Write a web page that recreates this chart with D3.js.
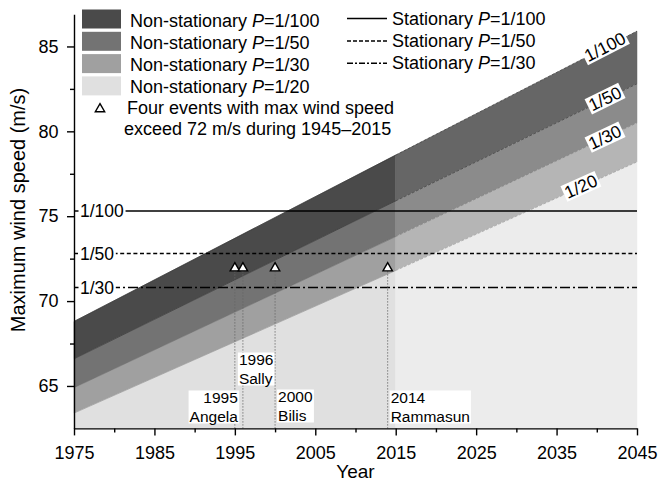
<!DOCTYPE html>
<html>
<head>
<meta charset="utf-8">
<style>
    body { margin: 0; background: #fff; }
    text { font-family: "Liberation Sans", Arial, sans-serif; fill: #000; }
</style>
</head>
<body>
<svg width="658" height="491"></svg>
<script src="https://d3js.org/d3.v7.min.js"></script>
<script>
    // ---- data ----
    let bandYears = [1975, 2015, 2045];
    let bandNames = ["1/100", "1/50", "1/30", "1/20"];
    let nonStat100 = [68.8, 78.6, 85.9];
    let nonStat50 = [66.6, 75.9, 82.8];
    let nonStat30 = [64.9, 73.8, 80.5];
    let nonStat20 = [63.4, 71.8, 78.2];
    let bandLabelYears = [2041, 2041, 2041, 2038];

    let statNames = ["1/100", "1/50", "1/30"];
    let statValues = [75.3, 72.8, 70.8];

    let eventYears = [1995, 1996, 2000, 2014];
    let eventNames = ["Angela", "Sally", "Bilis", "Rammasun"];
    let eventSpeed = [72, 72, 72, 72];

    let xTicks = [1975, 1985, 1995, 2005, 2015, 2025, 2035, 2045];
    let xMinor = [1980, 1990, 2000, 2010, 2020, 2030, 2040];
    let yTicks = [65, 70, 75, 80, 85];
    let yMinor = [67.5, 72.5, 77.5, 82.5];

    let pastColors = ["#4a4a4a", "#737373", "#a0a0a0", "#e0e0e0"];
    let futureColors = ["#666666", "#8b8b8b", "#b5b5b5", "#ececec"];

    let bands = [nonStat100, nonStat50, nonStat30, nonStat20];

    let svg = d3.select("svg");
    let x = d3.scaleLinear().domain([1975, 2045]).range([74, 637]);
    let y = d3.scaleLinear().domain([62.5, 86.9]).range([428.4, 14.2]);
    let yMin = y.domain()[0];

    let plot = svg.append("g");

    // bands, drawn as two segments: 1975-2015 and 2015-2045
    [[0, 1], [1, 2]].forEach(function (seg, s) {
        bands.forEach(function (vals, i) {
            let below = bands[i + 1];
            let pts = seg.map(function (k) {
                return {yr: bandYears[k], top: vals[k], bot: below ? below[k] : yMin};
            });
            let area = d3.area()
                .x(function (d) {return x(d.yr);})
                .y0(function (d) {return y(d.bot);})
                .y1(function (d) {return y(d.top);});
            plot.append("path")
                .attr("d", area(pts))
                .attr("fill", s === 0 ? pastColors[i] : futureColors[i])
                .attr("stroke", s === 0 ? pastColors[i] : futureColors[i])
                .attr("stroke-width", 0.5);
        });
    });

    // band edges
    bands.forEach(function (vals, i) {
        [[0, 1], [1, 2]].forEach(function (seg, s) {
            plot.append("line")
                .attr("x1", x(bandYears[seg[0]])).attr("y1", y(vals[seg[0]]))
                .attr("x2", x(bandYears[seg[1]])).attr("y2", y(vals[seg[1]]))
                .attr("stroke", "#2a2a2a")
                .attr("stroke-opacity", i < 2 ? 0.7 : 0.35)
                .attr("stroke-width", 0.8)
                .attr("stroke-dasharray", s === 0 ? null : "3,1.5");
        });
    });

    // stationary lines
    let dashes = [null, "4,2.6", "10,3,2,3"];
    statValues.forEach(function (v, i) {
        plot.append("line")
            .attr("x1", x(1975)).attr("x2", x(2045))
            .attr("y1", y(v)).attr("y2", y(v))
            .attr("stroke", "#000")
            .attr("stroke-width", 1.5)
            .attr("stroke-dasharray", dashes[i]);
    });

    // event markers
    eventYears.forEach(function (yr, i) {
        plot.append("line")
            .attr("x1", x(yr)).attr("x2", x(yr))
            .attr("y1", y(eventSpeed[i]) + 4).attr("y2", y(yMin))
            .attr("stroke", "#666")
            .attr("stroke-width", 0.8)
            .attr("stroke-dasharray", "1.5,1.5");
    });

    function labelBox(g, txt, pad) {
        let b = txt.node().getBBox();
        g.insert("rect", "text")
            .attr("x", b.x - pad).attr("y", b.y + 1.5)
            .attr("width", b.width + 2 * pad).attr("height", b.height - 3)
            .attr("fill", "#fff");
    }

    // event labels
    let evLabel = [
        {dx: 3, anchor: "end", y1: 403, y2: 422},
        {dx: -4, anchor: "start", y1: 365, y2: 384},
        {dx: 3, anchor: "start", y1: 402, y2: 421},
        {dx: 3, anchor: "start", y1: 403, y2: 422}
    ];
    eventYears.forEach(function (yr, i) {
        let o = evLabel[i];
        let g = plot.append("g");
        let t = g.append("text")
            .attr("text-anchor", o.anchor)
            .style("font-size", "15.5px");
        t.append("tspan").attr("x", x(yr) + o.dx).attr("y", o.y1).text(yr);
        t.append("tspan").attr("x", x(yr) + o.dx).attr("y", o.y2).text(eventNames[i]);
        labelBox(g, t, 1);
    });

    plot.selectAll(".ev")
        .data(eventYears)
        .enter().append("path")
        .attr("d", d3.symbol().type(d3.symbolTriangle).size(38))
        .attr("transform", function (d, i) {return "translate(" + x(d) + "," + (y(eventSpeed[i]) + 1) + ")";})
        .attr("fill", "#fff")
        .attr("stroke", "#000")
        .attr("stroke-width", 1.4);

    // stationary labels on the left
    statValues.forEach(function (v, i) {
        let g = plot.append("g");
        let t = g.append("text")
            .attr("x", 80)
            .attr("y", y(v))
            .attr("dy", "0.35em")
            .style("font-size", "17.5px")
            .text(statNames[i]);
        labelBox(g, t, 1.5);
    });

    // rotated labels on the bands
    bands.forEach(function (vals, i) {
        let yr = bandLabelYears[i];
        let v = vals[1] + (vals[2] - vals[1]) * (yr - bandYears[1]) / (bandYears[2] - bandYears[1]);
        let ang = Math.atan2(y(vals[2]) - y(vals[1]), x(bandYears[2]) - x(bandYears[1])) * 180 / Math.PI;
        let g = plot.append("g")
            .attr("transform", "translate(" + x(yr) + "," + (y(v) - 1) + ") rotate(" + ang + ")");
        let t = g.append("text")
            .attr("text-anchor", "middle")
            .attr("dy", "0.36em")
            .style("font-size", "17.5px")
            .text(bandNames[i]);
        labelBox(g, t, 1.5);
    });

    // axes
    let xAxis = svg.append("g").attr("transform", "translate(0," + y(yMin) + ")")
        .call(d3.axisBottom(x).tickValues(xTicks).tickFormat(d3.format("d")).tickSize(7).tickSizeOuter(0));
    svg.append("g").attr("transform", "translate(0," + y(yMin) + ")")
        .call(d3.axisBottom(x).tickValues(xMinor).tickFormat("").tickSize(4).tickSizeOuter(0))
        .select(".domain").remove();
    let yAxis = svg.append("g").attr("transform", "translate(" + x(1975) + ",0)")
        .call(d3.axisLeft(y).tickValues(yTicks).tickSize(7).tickSizeOuter(0));
    svg.append("g").attr("transform", "translate(" + x(1975) + ",0)")
        .call(d3.axisLeft(y).tickValues(yMinor).tickFormat("").tickSize(4).tickSizeOuter(0))
        .select(".domain").remove();

    svg.selectAll(".domain, .tick line").attr("stroke", "#000").attr("stroke-width", 1.4);
    xAxis.selectAll("text").style("font-size", "18px").attr("dy", "1.12em");
    yAxis.selectAll("text").style("font-size", "18px").attr("dx", "-0.3em");

    svg.append("text")
        .attr("x", (x(1975) + x(2045)) / 2)
        .attr("y", 478)
        .attr("text-anchor", "middle")
        .style("font-size", "19px")
        .text("Year");
    svg.append("text")
        .attr("transform", "translate(25," + 210 + ") rotate(-90)")
        .attr("text-anchor", "middle")
        .style("font-size", "20px")
        .text("Maximum wind speed (m/s)");

    // legend
    let leg = svg.append("g");
    bandNames.forEach(function (name, i) {
        leg.append("rect")
            .attr("x", 82).attr("y", 9.5 + i * 22.3)
            .attr("width", 39).attr("height", 19)
            .attr("fill", pastColors[i]);
        let t = leg.append("text")
            .attr("x", 130).attr("y", 26.5 + i * 22.3)
            .style("font-size", "18px");
        t.append("tspan").text("Non-stationary ");
        t.append("tspan").style("font-style", "italic").text("P");
        t.append("tspan").text("=" + name);
    });
    leg.append("path")
        .attr("d", d3.symbol().type(d3.symbolTriangle).size(38))
        .attr("transform", "translate(100,109)")
        .attr("fill", "#fff").attr("stroke", "#000").attr("stroke-width", 1.4);
    leg.append("text").attr("x", 127).attr("y", 113.5).style("font-size", "18px")
        .text("Four events with max wind speed");
    leg.append("text").attr("x", 124).attr("y", 135).style("font-size", "18px")
        .text("exceed 72 m/s during 1945\u20132015");

    statNames.forEach(function (name, i) {
        let ly = 18.5 + i * 22.4;
        leg.append("line")
            .attr("x1", 347).attr("x2", 387)
            .attr("y1", ly).attr("y2", ly)
            .attr("stroke", "#000").attr("stroke-width", 1.5)
            .attr("stroke-dasharray", dashes[i] ? (i === 1 ? "4,2" : "6,2,2,2") : null);
        let t = leg.append("text")
            .attr("x", 392).attr("y", ly + 6)
            .style("font-size", "18px");
        t.append("tspan").text("Stationary ");
        t.append("tspan").style("font-style", "italic").text("P");
        t.append("tspan").text("=" + name);
    });
</script>
</body>
</html>
